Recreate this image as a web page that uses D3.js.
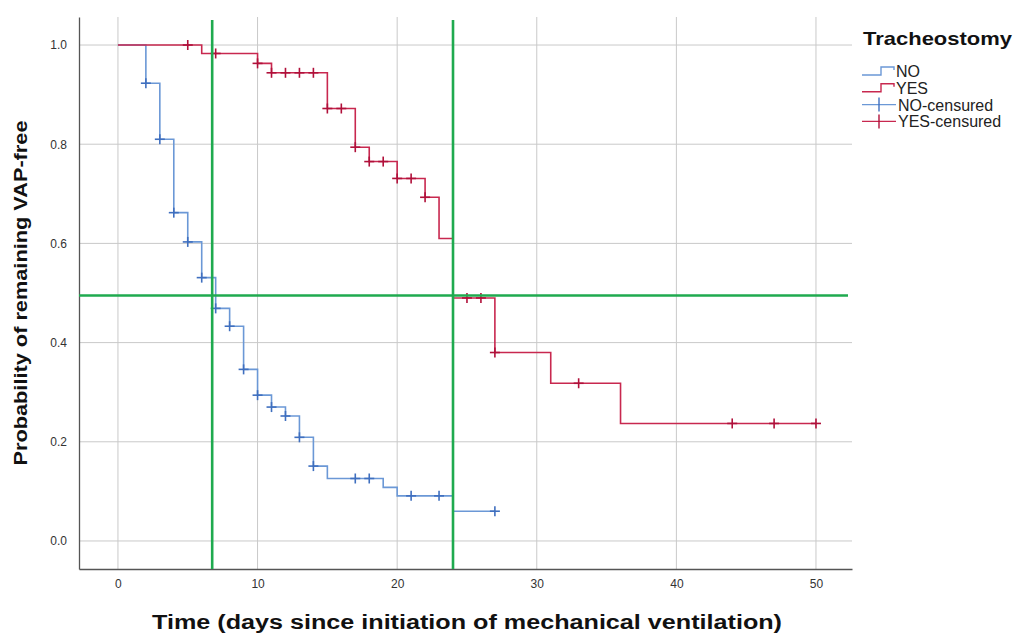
<!DOCTYPE html>
<html lang="en">
<head>
    <meta charset="UTF-8">
    <title>Kaplan-Meier: Tracheostomy</title>
    <script src="https://d3js.org/d3.v7.min.js"></script>
    <style>
        html, body {
            margin: 0;
            padding: 0;
            background: #fff;
            overflow: hidden;
        }
        svg text {
            font-family: "Liberation Sans", Arial, sans-serif;
        }
        .grid line {
            stroke: #c9c9c9;
            stroke-width: 1;
        }
        .tick-label {
            font-size: 12px;
            fill: #333;
        }
    </style>
</head>
<body>
    <script>
        // Kaplan-Meier steps, group NO (time in days, survival probability)
        const noTimes = [0, 2, 3, 4, 5, 6, 7, 8, 9, 10, 11, 12, 13, 14, 15, 19, 20, 24, 27];
        const noSurv = [1.0, 0.923, 0.81, 0.662, 0.603, 0.531, 0.469, 0.433, 0.346, 0.294, 0.27, 0.252, 0.209, 0.151, 0.126, 0.108, 0.091, 0.06, 0.06];
        const noCensored = [2, 3, 4, 5, 6, 7, 8, 9, 10, 11, 12, 13, 14, 17, 18, 21, 23, 27];

        // group YES
        const yesTimes = [0, 6, 10, 11, 15, 17, 18, 20, 22, 23, 24, 27, 31, 36, 50];
        const yesSurv = [1.0, 0.983, 0.963, 0.944, 0.872, 0.794, 0.765, 0.731, 0.693, 0.61, 0.49, 0.38, 0.318, 0.237, 0.237];
        const yesCensored = [5, 7, 10, 11, 12, 13, 14, 15, 16, 17, 18, 19, 20, 21, 22, 25, 26, 27, 33, 44, 47, 50];

        // median reference lines (hand drawn in the original)
        const refX = [6.75, 24];
        const refY = [0.495];

        const xTicks = [0, 10, 20, 30, 40, 50];
        const yTicks = [0, 0.2, 0.4, 0.6, 0.8, 1.0];

        const legendTitle = "Tracheostomy";
        const legendItems = ["NO", "YES", "NO-censured", "YES-censured"];

        const width = 1014, height = 637;
        const margin = {top: 17, right: 162, bottom: 68, left: 79};

        const colors = {
            NO: "#6b98d6",
            YES: "#c8284f",
            NOmark: "#3f6fbf",
            YESmark: "#b0103a",
            ref: "#1faa4f"
        };

        const svg = d3.select("body").append("svg")
            .attr("width", width)
            .attr("height", height);

        const x = d3.scaleLinear()
            .domain([-2.79, 52.58])
            .range([margin.left, width - margin.right]);

        const y = d3.scaleLinear()
            .domain([-0.0565, 1.0565])
            .range([height - margin.bottom, margin.top]);

        // grid
        const grid = svg.append("g").attr("class", "grid");
        grid.selectAll(".vg")
            .data(xTicks)
            .join("line")
            .attr("x1", d => x(d)).attr("x2", d => x(d))
            .attr("y1", y.range()[1]).attr("y2", y.range()[0]);
        grid.selectAll(".hg")
            .data(yTicks)
            .join("line")
            .attr("class", "hg")
            .attr("x1", x.range()[0]).attr("x2", x.range()[1])
            .attr("y1", d => y(d)).attr("y2", d => y(d));

        // axes (no tick marks, just labels)
        const xAxis = svg.append("g")
            .attr("transform", `translate(0,${y.range()[0]})`)
            .call(d3.axisBottom(x).tickValues(xTicks).tickSize(0).tickPadding(10).tickFormat(d3.format("d")));
        const yAxis = svg.append("g")
            .attr("transform", `translate(${x.range()[0]},0)`)
            .call(d3.axisLeft(y).tickValues(yTicks).tickSize(0).tickPadding(12).tickFormat(d3.format(".1f")));

        [xAxis, yAxis].forEach(a => {
            a.select(".domain").attr("stroke", "#555").attr("stroke-width", 1.3);
            a.selectAll("text").attr("class", "tick-label")
                .style("font-family", "'Liberation Sans', Arial, sans-serif");
        });

        // step curves
        function stepPoints(times, surv) {
            return times.map((t, i) => [t, surv[i]]);
        }
        const stepLine = d3.line()
            .x(d => x(d[0]))
            .y(d => y(d[1]))
            .curve(d3.curveStepAfter);

        function survAt(times, surv, t) {
            const i = d3.bisectRight(times, t) - 1;
            return surv[Math.max(0, i)];
        }

        const groups = [
            {name: "NO", times: noTimes, surv: noSurv, cens: noCensored},
            {name: "YES", times: yesTimes, surv: yesSurv, cens: yesCensored}
        ];

        groups.forEach(g => {
            svg.append("path")
                .datum(stepPoints(g.times, g.surv))
                .attr("d", stepLine)
                .attr("fill", "none")
                .attr("stroke", colors[g.name])
                .attr("stroke-width", 1.6);
        });

        // censor marks
        const half = 5;
        groups.forEach(g => {
            const marks = svg.append("g")
                .attr("stroke", colors[g.name + "mark"])
                .attr("stroke-width", 1.6);
            g.cens.forEach(t => {
                const cx = x(t), cy = y(survAt(g.times, g.surv, t));
                marks.append("line")
                    .attr("x1", cx).attr("x2", cx)
                    .attr("y1", cy - half).attr("y2", cy + half);
                marks.append("line")
                    .attr("x1", cx - half).attr("x2", cx + half)
                    .attr("y1", cy).attr("y2", cy);
            });
        });

        // green reference lines
        const ref = svg.append("g")
            .attr("stroke", colors.ref)
            .attr("stroke-width", 2.6);
        ref.selectAll(".rx")
            .data(refX)
            .join("line")
            .attr("x1", d => x(d)).attr("x2", d => x(d))
            .attr("y1", y.range()[1] + 3).attr("y2", y.range()[0]);
        ref.selectAll(".ry")
            .data(refY)
            .join("line")
            .attr("class", "ry")
            .attr("x1", x.range()[0]).attr("x2", x.range()[1] - 4)
            .attr("y1", d => y(d)).attr("y2", d => y(d));

        // axis titles
        svg.append("text")
            .attr("x", 467)
            .attr("y", 629)
            .attr("text-anchor", "middle")
            .attr("font-size", 20)
            .attr("font-weight", "bold")
            .attr("fill", "#111")
            .attr("textLength", 630)
            .attr("lengthAdjust", "spacingAndGlyphs")
            .text("Time (days since initiation of mechanical ventilation)");

        svg.append("text")
            .attr("transform", `translate(27,293) rotate(-90)`)
            .attr("text-anchor", "middle")
            .attr("font-size", 19)
            .attr("font-weight", "bold")
            .attr("fill", "#111")
            .attr("textLength", 345)
            .attr("lengthAdjust", "spacingAndGlyphs")
            .text("Probability of remaining VAP-free");

        // legend
        const lg = svg.append("g").attr("transform", "translate(862,0)");
        lg.append("text")
            .attr("x", 1).attr("y", 45)
            .attr("font-size", 19)
            .attr("font-weight", "bold")
            .attr("fill", "#111")
            .attr("textLength", 149)
            .attr("lengthAdjust", "spacingAndGlyphs")
            .text(legendTitle);

        const rowY = d => 71 + legendItems.indexOf(d) * 16.8;
        const item = lg.selectAll(".item")
            .data(legendItems)
            .join("g")
            .attr("transform", d => `translate(0,${rowY(d)})`);

        item.each(function (d) {
            const el = d3.select(this);
            const key = d.replace("-censured", "");
            if (d.endsWith("censured")) {
                el.append("line").attr("x1", 0).attr("x2", 34).attr("y1", 0).attr("y2", 0)
                    .attr("stroke", colors[key]).attr("stroke-width", 1.4);
                el.append("line").attr("x1", 17).attr("x2", 17).attr("y1", -7).attr("y2", 7)
                    .attr("stroke", colors[key + "mark"]).attr("stroke-width", 1.4);
            } else {
                el.append("path")
                    .attr("d", "M0,4 H19 V-4 H32 V-1")
                    .attr("fill", "none")
                    .attr("stroke", colors[key]).attr("stroke-width", 1.4);
            }
            el.append("text")
                .attr("x", d.endsWith("censured") ? 36 : 34)
                .attr("y", 6)
                .attr("font-size", 16)
                .attr("fill", "#222")
                .text(d);
        });
    </script>
</body>
</html>
